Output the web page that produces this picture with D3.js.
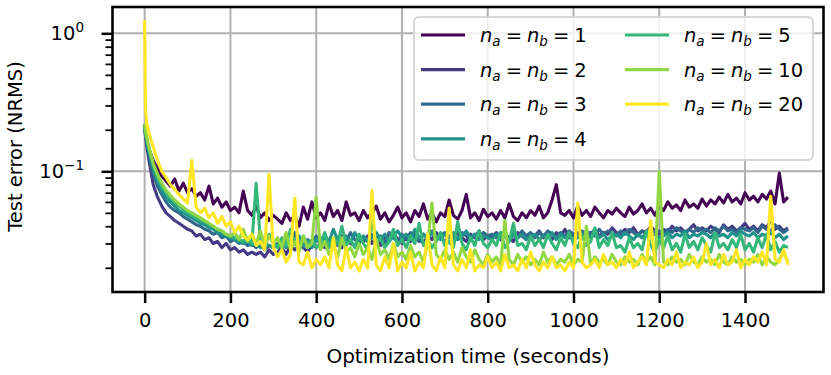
<!DOCTYPE html>
<html>
<head>
<script src="https://d3js.org/d3.v7.min.js"></script>
<style>
  body { margin: 0; background: #fff; }
  text { font-family: "DejaVu Sans", sans-serif; fill: #000; }
</style>
</head>
<body>
<svg width="831" height="375"></svg>
<script>
// optimisation time (s) shared by every run
const times = [0, 2, 5].concat(d3.range(10, 1501, 10));

const orders = [1, 2, 3, 4, 5, 10, 20];
const colors = ['#440154', '#443983', '#31688e', '#21918c', '#35b779', '#90d743', '#fde725'];

const err1 = [0.22, 0.19, 0.17,
  0.145, 0.12, 0.105, 0.092, 0.085, 0.078, 0.088, 0.072, 0.082, 0.07,
  0.075, 0.066, 0.07, 0.062, 0.078, 0.058, 0.064, 0.055, 0.06, 0.052,
  0.055, 0.05, 0.072, 0.052, 0.048, 0.056, 0.046, 0.05, 0.044, 0.048,
  0.045, 0.042, 0.05, 0.044, 0.048, 0.04, 0.055, 0.045, 0.06, 0.046,
  0.05, 0.044, 0.058, 0.047, 0.052, 0.044, 0.06, 0.048, 0.05, 0.044,
  0.052, 0.046, 0.05, 0.056, 0.045, 0.05, 0.043, 0.048, 0.055, 0.046,
  0.05, 0.043, 0.052, 0.047, 0.058, 0.045, 0.05, 0.043, 0.05, 0.047,
  0.062, 0.048, 0.045, 0.052, 0.068, 0.046, 0.05, 0.044, 0.053, 0.047,
  0.05, 0.045, 0.052, 0.046, 0.058, 0.047, 0.044, 0.05, 0.046, 0.052,
  0.048, 0.056, 0.046, 0.05, 0.062, 0.08, 0.05, 0.048, 0.052, 0.046,
  0.056, 0.048, 0.052, 0.047, 0.055, 0.05, 0.046, 0.052, 0.049, 0.054,
  0.05, 0.047, 0.055, 0.049, 0.052, 0.058, 0.05, 0.054, 0.048, 0.056,
  0.052, 0.06, 0.054, 0.057, 0.052, 0.062, 0.055, 0.058, 0.054, 0.063,
  0.056, 0.062, 0.058, 0.065, 0.059, 0.068, 0.06, 0.064, 0.058, 0.07,
  0.062, 0.066, 0.06, 0.068, 0.063, 0.072, 0.058, 0.097, 0.06, 0.065];

const err2 = [0.2, 0.18, 0.15,
  0.12, 0.08, 0.065, 0.056, 0.05, 0.047, 0.044, 0.042, 0.04, 0.038,
  0.037, 0.034, 0.035, 0.032, 0.033, 0.03, 0.031, 0.028, 0.03, 0.027,
  0.028, 0.026, 0.027, 0.025, 0.026, 0.025, 0.026, 0.024, 0.027, 0.025,
  0.026, 0.028, 0.025, 0.029, 0.027, 0.03, 0.028, 0.026, 0.03, 0.028,
  0.03, 0.028, 0.032, 0.029, 0.031, 0.028, 0.033, 0.03, 0.029, 0.032,
  0.031, 0.034, 0.03, 0.033, 0.029, 0.034, 0.031, 0.036, 0.032, 0.03,
  0.033, 0.031, 0.035, 0.032, 0.03, 0.034, 0.032, 0.036, 0.033, 0.031,
  0.034, 0.032, 0.036, 0.033, 0.031, 0.035, 0.033, 0.037, 0.032, 0.034,
  0.033, 0.036, 0.032, 0.035, 0.033, 0.031, 0.036, 0.034, 0.032, 0.035,
  0.034, 0.037, 0.033, 0.035, 0.032, 0.036, 0.034, 0.038, 0.033, 0.035,
  0.036, 0.034, 0.037, 0.035, 0.038, 0.034, 0.036, 0.035, 0.039, 0.036,
  0.035, 0.038, 0.036, 0.039, 0.035, 0.037, 0.036, 0.04, 0.037, 0.035,
  0.038, 0.036, 0.04, 0.037, 0.039, 0.036, 0.038, 0.041, 0.037, 0.039,
  0.037, 0.04, 0.038, 0.036, 0.041, 0.038, 0.04, 0.037, 0.039, 0.042,
  0.038, 0.04, 0.037, 0.041, 0.039, 0.044, 0.038, 0.04, 0.037, 0.039];

const err3 = [0.21, 0.19, 0.16,
  0.13, 0.095, 0.078, 0.068, 0.06, 0.055, 0.052, 0.05, 0.047, 0.045,
  0.043, 0.041, 0.04, 0.038, 0.037, 0.035, 0.036, 0.033, 0.034, 0.031,
  0.032, 0.03, 0.031, 0.029, 0.03, 0.028, 0.03, 0.027, 0.029, 0.028,
  0.03, 0.027, 0.033, 0.029, 0.036, 0.03, 0.028, 0.032, 0.03, 0.034,
  0.031, 0.035, 0.03, 0.033, 0.029, 0.034, 0.031, 0.036, 0.032, 0.03,
  0.033, 0.031, 0.035, 0.032, 0.034, 0.03, 0.036, 0.033, 0.031, 0.035,
  0.032, 0.036, 0.033, 0.031, 0.035, 0.033, 0.037, 0.032, 0.034, 0.036,
  0.033, 0.035, 0.032, 0.036, 0.034, 0.032, 0.035, 0.033, 0.036, 0.034,
  0.035, 0.033, 0.036, 0.034, 0.032, 0.035, 0.033, 0.037, 0.034, 0.036,
  0.033, 0.036, 0.034, 0.037, 0.035, 0.033, 0.036, 0.034, 0.037, 0.035,
  0.034, 0.037, 0.035, 0.036, 0.034, 0.038, 0.035, 0.037, 0.036, 0.034,
  0.037, 0.035, 0.038, 0.036, 0.034, 0.037, 0.035, 0.038, 0.036, 0.037,
  0.035, 0.038, 0.036, 0.039, 0.037, 0.035, 0.038, 0.036, 0.039, 0.037,
  0.038, 0.036, 0.039, 0.037, 0.04, 0.037, 0.038, 0.036, 0.039, 0.038,
  0.037, 0.039, 0.036, 0.04, 0.038, 0.037, 0.041, 0.038, 0.036, 0.038];

const err4 = [0.21, 0.19, 0.165,
  0.14, 0.105, 0.085, 0.072, 0.065, 0.06, 0.056, 0.052, 0.05, 0.048,
  0.046, 0.044, 0.042, 0.041, 0.039, 0.038, 0.036, 0.035, 0.034, 0.033,
  0.032, 0.031, 0.03, 0.031, 0.029, 0.03, 0.028, 0.03, 0.029, 0.028,
  0.029, 0.032, 0.028, 0.031, 0.03, 0.034, 0.029, 0.031, 0.028, 0.032,
  0.03, 0.033, 0.031, 0.038, 0.032, 0.03, 0.034, 0.031, 0.036, 0.032,
  0.034, 0.031, 0.033, 0.036, 0.032, 0.035, 0.031, 0.034, 0.037, 0.033,
  0.035, 0.032, 0.038, 0.033, 0.035, 0.032, 0.036, 0.034, 0.032, 0.035,
  0.033, 0.036, 0.032, 0.034, 0.037, 0.033, 0.035, 0.032, 0.034, 0.033,
  0.032, 0.035, 0.033, 0.034, 0.031, 0.036, 0.033, 0.035, 0.032, 0.034,
  0.035, 0.032, 0.034, 0.033, 0.036, 0.032, 0.035, 0.033, 0.034, 0.032,
  0.033, 0.035, 0.032, 0.034, 0.036, 0.033, 0.035, 0.032, 0.034, 0.035,
  0.033, 0.036, 0.034, 0.032, 0.035, 0.033, 0.036, 0.034, 0.035, 0.033,
  0.034, 0.036, 0.033, 0.035, 0.034, 0.037, 0.033, 0.035, 0.034, 0.036,
  0.035, 0.033, 0.036, 0.034, 0.035, 0.033, 0.036, 0.034, 0.037, 0.035,
  0.034, 0.036, 0.033, 0.035, 0.034, 0.036, 0.033, 0.035, 0.032, 0.034];

const err5 = [0.21, 0.19, 0.17,
  0.145, 0.11, 0.09, 0.078, 0.07, 0.064, 0.06, 0.056, 0.053, 0.05,
  0.048, 0.046, 0.044, 0.043, 0.041, 0.04, 0.038, 0.037, 0.035, 0.034,
  0.033, 0.032, 0.031, 0.033, 0.03, 0.082, 0.031, 0.029, 0.035, 0.03,
  0.028, 0.033, 0.029, 0.038, 0.03, 0.027, 0.034, 0.029, 0.032, 0.028,
  0.03, 0.036, 0.028, 0.033, 0.03, 0.04, 0.029, 0.032, 0.028, 0.035,
  0.03, 0.027, 0.045, 0.03, 0.033, 0.028, 0.031, 0.038, 0.029, 0.032,
  0.028, 0.034, 0.03, 0.042, 0.029, 0.032, 0.028, 0.031, 0.036, 0.029,
  0.031, 0.028, 0.043, 0.03, 0.027, 0.033, 0.029, 0.037, 0.03, 0.028,
  0.032, 0.029, 0.036, 0.028, 0.031, 0.042, 0.029, 0.03, 0.027, 0.034,
  0.029, 0.032, 0.028, 0.035, 0.03, 0.027, 0.033, 0.029, 0.036, 0.03,
  0.028, 0.034, 0.029, 0.031, 0.039, 0.028, 0.032, 0.029, 0.036, 0.028,
  0.029, 0.026, 0.033, 0.028, 0.03, 0.027, 0.037, 0.029, 0.026, 0.032,
  0.028, 0.034, 0.027, 0.03, 0.026, 0.035, 0.028, 0.031, 0.027, 0.033,
  0.029, 0.026, 0.036, 0.028, 0.03, 0.027, 0.032, 0.028, 0.035, 0.027,
  0.03, 0.026, 0.033, 0.028, 0.035, 0.027, 0.031, 0.026, 0.029, 0.028];

const err10 = [0.22, 0.2, 0.175,
  0.15, 0.115, 0.095, 0.082, 0.073, 0.067, 0.062, 0.058, 0.055, 0.052,
  0.05, 0.048, 0.046, 0.044, 0.042, 0.04, 0.038, 0.037, 0.035, 0.034,
  0.036, 0.032, 0.038, 0.031, 0.035, 0.03, 0.037, 0.029, 0.034, 0.03,
  0.033, 0.028, 0.036, 0.027, 0.031, 0.026, 0.034, 0.028, 0.03, 0.065,
  0.027, 0.031, 0.025, 0.029, 0.024, 0.033, 0.026, 0.028, 0.024, 0.03,
  0.025, 0.028, 0.023, 0.032, 0.025, 0.027, 0.023, 0.03, 0.024, 0.026,
  0.023, 0.029, 0.024, 0.026, 0.022, 0.03, 0.059, 0.025, 0.023, 0.027,
  0.023, 0.026, 0.022, 0.028, 0.024, 0.022, 0.027, 0.023, 0.021, 0.025,
  0.022, 0.024, 0.021, 0.044, 0.023, 0.021, 0.025, 0.022, 0.024, 0.021,
  0.023, 0.021, 0.026, 0.022, 0.024, 0.021, 0.023, 0.022, 0.025, 0.021,
  0.023, 0.022, 0.04, 0.021, 0.024, 0.022, 0.023, 0.021, 0.025, 0.022,
  0.021, 0.024, 0.022, 0.023, 0.021, 0.025, 0.022, 0.024, 0.021, 0.1,
  0.022, 0.021, 0.024, 0.022, 0.023, 0.021, 0.025, 0.022, 0.021, 0.024,
  0.022, 0.023, 0.021, 0.025, 0.022, 0.021, 0.024, 0.022, 0.023, 0.021,
  0.023, 0.022, 0.025, 0.021, 0.024, 0.022, 0.021, 0.023, 0.026, 0.022];

const err20 = [1.25, 0.28, 0.22,
  0.19, 0.15, 0.12, 0.1, 0.09, 0.08, 0.074, 0.068, 0.063, 0.059,
  0.12, 0.055, 0.05, 0.054, 0.046, 0.05, 0.042, 0.047, 0.04, 0.043,
  0.036, 0.04, 0.034, 0.032, 0.035, 0.029, 0.031, 0.027, 0.095, 0.028,
  0.024, 0.027, 0.022, 0.025, 0.064, 0.022, 0.021, 0.026, 0.02, 0.023,
  0.021, 0.024, 0.02, 0.033, 0.021, 0.019, 0.028, 0.02, 0.022, 0.019,
  0.023, 0.02, 0.073, 0.021, 0.019, 0.024, 0.02, 0.03, 0.019, 0.022,
  0.02, 0.026, 0.019, 0.022, 0.02, 0.035, 0.021, 0.019, 0.024, 0.02,
  0.054, 0.021, 0.019, 0.023, 0.02, 0.027, 0.019, 0.021, 0.02, 0.024,
  0.02, 0.022, 0.019, 0.025, 0.02, 0.021, 0.019, 0.023, 0.02, 0.026,
  0.021, 0.019, 0.022, 0.02, 0.024, 0.02, 0.021, 0.019, 0.022, 0.02,
  0.059, 0.022, 0.02, 0.021, 0.023, 0.02, 0.025, 0.021, 0.022, 0.02,
  0.023, 0.021, 0.026, 0.02, 0.022, 0.024, 0.021, 0.044, 0.022, 0.021,
  0.02, 0.023, 0.021, 0.026, 0.02, 0.022, 0.021, 0.024, 0.02, 0.022,
  0.03, 0.021, 0.023, 0.02, 0.025, 0.021, 0.022, 0.027, 0.02, 0.023,
  0.021, 0.024, 0.022, 0.026, 0.021, 0.066, 0.023, 0.022, 0.027, 0.021];

const runs = [err1, err2, err3, err4, err5, err10, err20];

const xTicks = [0, 200, 400, 600, 800, 1000, 1200, 1400];
const yTicks = [1, 0.1];
const yMinor = [0.02, 0.03, 0.04, 0.05, 0.06, 0.07, 0.08, 0.09,
                0.2, 0.3, 0.4, 0.5, 0.6, 0.7, 0.8, 0.9];

const svg = d3.select('svg');
const pLeft = 112.5, pRight = 823.5, pTop = 7, pBottom = 292;

const x = d3.scaleLinear().domain([-75, 1583]).range([pLeft, pRight]);
const y = d3.scaleLog().domain([0.01335, 1.551]).range([pBottom, pTop]);

// grid
svg.append('g').selectAll('line').data(xTicks).join('line')
    .attr('x1', d => x(d)).attr('x2', d => x(d))
    .attr('y1', pTop).attr('y2', pBottom)
    .attr('stroke', '#b0b0b0').attr('stroke-width', 2);
svg.append('g').selectAll('line').data(yTicks).join('line')
    .attr('y1', d => y(d)).attr('y2', d => y(d))
    .attr('x1', pLeft).attr('x2', pRight)
    .attr('stroke', '#b0b0b0').attr('stroke-width', 2);

svg.append('clipPath').attr('id', 'plot')
  .append('rect').attr('x', pLeft).attr('y', pTop)
    .attr('width', pRight - pLeft).attr('height', pBottom - pTop);

const line = d3.line()
    .x((d, i) => x(times[i]))
    .y(d => y(d));

svg.append('g').attr('clip-path', 'url(#plot)')
  .selectAll('path').data(runs).join('path')
    .attr('d', line)
    .attr('fill', 'none')
    .attr('stroke', (d, i) => colors[i])
    .attr('stroke-width', 3.1)
    .attr('stroke-linejoin', 'round');

// axes
const xAxis = svg.append('g').attr('transform', `translate(0,${pBottom})`)
    .call(d3.axisBottom(x).tickValues(xTicks).tickSize(11).tickPadding(10).tickFormat(d3.format('d')));
const yAxis = svg.append('g').attr('transform', `translate(${pLeft},0)`)
    .call(d3.axisLeft(y).tickValues(yTicks).tickSize(11).tickPadding(0).tickFormat(''));
svg.append('g').attr('transform', `translate(${pLeft},0)`)
    .call(d3.axisLeft(y).tickValues(yMinor).tickSize(7).tickFormat(''))
    .call(g => g.select('.domain').remove())
    .selectAll('line').attr('stroke-width', 1.8);

[xAxis, yAxis].forEach(g => {
  g.select('.domain').remove();
  g.selectAll('line').attr('stroke', '#000').attr('stroke-width', 2.5);
});
xAxis.selectAll('text').attr('font-size', 19.5).attr('font-family', 'DejaVu Sans').attr('fill', '#000');

// y tick labels as powers of ten
const yl = svg.append('g').selectAll('text').data(yTicks).join('text')
    .attr('x', 84).attr('y', d => y(d) + 7)
    .attr('text-anchor', 'end')
    .attr('font-size', 19.5);
yl.append('tspan').text('10');
yl.append('tspan').attr('font-size', 13.5).attr('dy', -8)
    .text(d => d === 1 ? '0' : '\u22121');

svg.append('rect')
    .attr('x', pLeft).attr('y', pTop)
    .attr('width', pRight - pLeft).attr('height', pBottom - pTop)
    .attr('fill', 'none').attr('stroke', '#000').attr('stroke-width', 2.6);

// axis titles
svg.append('text')
    .attr('x', (pLeft + pRight) / 2).attr('y', 363)
    .attr('text-anchor', 'middle').attr('font-size', 20)
    .text('Optimization time (seconds)');
svg.append('text')
    .attr('transform', `translate(22,${(pTop + pBottom) / 2 - 3}) rotate(-90)`)
    .attr('text-anchor', 'middle').attr('font-size', 19.5)
    .text('Test error (NRMS)');

// legend
const legend = svg.append('g');
legend.append('rect')
    .attr('x', 414).attr('y', 17).attr('width', 399).attr('height', 143)
    .attr('rx', 5)
    .attr('fill', 'rgba(255,255,255,0.8)')
    .attr('stroke', '#d6d6d6').attr('stroke-width', 2);

const items = legend.selectAll('g.item').data(orders).join('g')
    .attr('class', 'item')
    .attr('transform', (d, i) => {
      const col = i < 4 ? 0 : 1;
      const row = i < 4 ? i : i - 4;
      return `translate(${col === 0 ? 421 : 625},${35 + row * 34.6})`;
    });
items.append('line')
    .attr('x1', 0).attr('x2', 44)
    .attr('stroke', (d, i) => colors[i]).attr('stroke-width', 3.2);
const lbl = items.append('text')
    .attr('x', 59).attr('y', 7).attr('font-size', 19.5);
lbl.append('tspan').attr('font-style', 'italic').text('n');
lbl.append('tspan').attr('font-style', 'italic').attr('font-size', 13.5).attr('dy', 4).text('a');
lbl.append('tspan').attr('dy', -4).attr('dx', 5).text('=');
lbl.append('tspan').attr('dx', 5).attr('font-style', 'italic').text('n');
lbl.append('tspan').attr('font-style', 'italic').attr('font-size', 13.5).attr('dy', 4).text('b');
lbl.append('tspan').attr('dy', -4).attr('dx', 5).text('=');
lbl.append('tspan').attr('dx', 5).text(d => d);
</script>
</body>
</html>
